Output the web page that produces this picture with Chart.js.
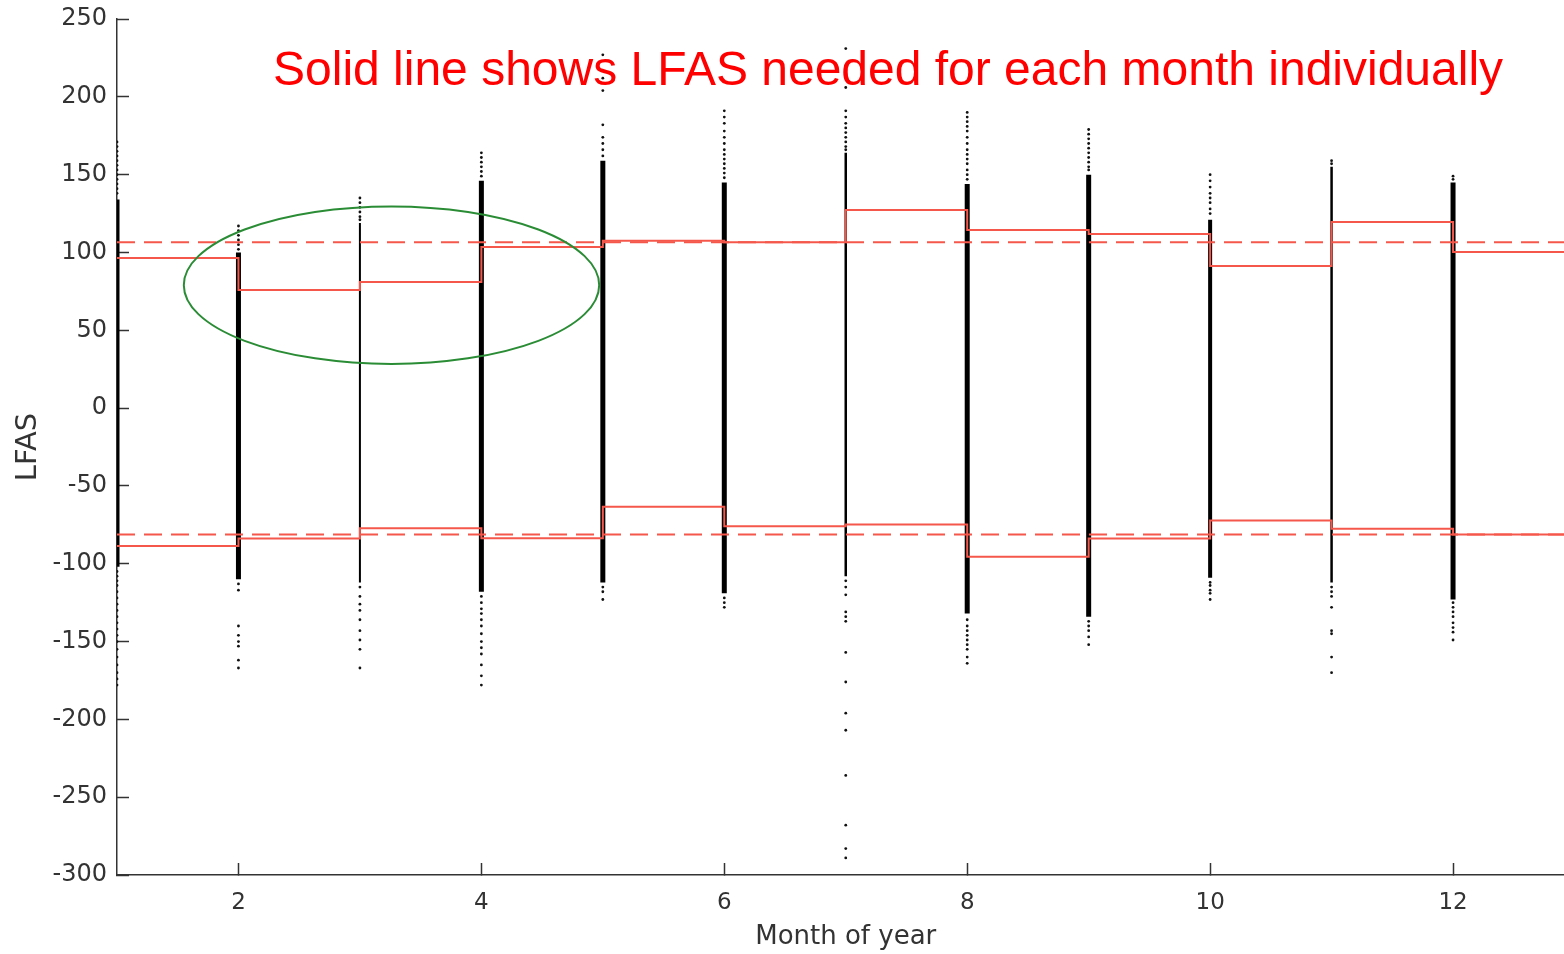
<!DOCTYPE html>
<html>
<head>
<meta charset="utf-8">
<script src="https://cdn.jsdelivr.net/npm/chart.js@4/dist/chart.umd.min.js"></script>
<style>
  html, body { margin: 0; padding: 0; background: #fff; overflow: hidden; }
  #wrap { position: absolute; left: 0; top: 0; width: 1580px; height: 954px; }
  #note {
    position: absolute; left: 273px; top: 45px;
    font: 48px/48px "Liberation Sans", Arial, sans-serif;
    color: #ff0000; white-space: nowrap;
  }
</style>
</head>
<body>
<div id="wrap"><canvas id="lfasChart"></canvas></div>
<div id="note">Solid line shows LFAS needed for each month individually</div>
<script>
// ---- DATA ----
const months = [1, 2, 3, 4, 5, 6, 7, 8, 9, 10, 11, 12];
const xTicks = [2, 4, 6, 8, 10, 12];

// LFAS needed for each month (solid steps)
const upperNeeded = [96.4, 75.8, 81, 103.5, 107.6, 106.5, 127.2, 114.4, 111.8, 91.3, 119.5, 100.3];
const lowerNeeded = [-88.6, -83.8, -77.2, -83.6, -63.4, -76, -74.8, -95.5, -83.8, -72.2, -77.5, -81.2];

// whole-year LFAS (dashed)
const upperAllYear = 106.6;
const lowerAllYear = -81.3;

// dense part of each month's cloud of samples
const denseTop = [134, 100, 119, 146, 159, 145, 164, 144, 150, 121, 155, 145];
const denseBottom = [-102, -110, -112, -118, -112, -119, -108, -132, -134, -109, -112, -123];

// sparse samples outside the dense part
const sparseSamples = [
  [171, 168, 165, 162, 159, 156, 153, 150, 147, 144, 141, 138, -105, -108, -111, -114, -118, -122, -126, -130, -134, -138, -142, -146, -150, -155, -160, -165, -170, -174, -178],
  [117, 114, 111, 108, 105, 102, -113, -117, -140, -146, -150, -153, -162, -167],
  [135, 132, 129, 126, 123, 121, -115, -121, -126, -130, -136, -143, -149, -155, -167],
  [164, 161, 158, 155, 152, 149, -121, -125, -129, -132, -136, -140, -145, -150, -154, -158, -165, -172, -178],
  [227, 212, 204, 182, 174, 170, 166, 162, -115, -118, -123],
  [191, 187, 183, 178, 174, 170, 166, 163, 160, 157, 154, 151, 148, -122, -125, -128],
  [231, 220, 206, 191, 187, 183, 180, 177, 174, 171, 168, 166, -111, -115, -120, -131, -134, -137, -157, -176, -196, -207, -236, -268, -283, -289],
  [190, 187, 184, 181, 178, 174, 170, 166, 163, 160, 157, 153, 150, 147, -136, -140, -143, -146, -149, -152, -155, -160, -164],
  [179, 176, 173, 170, 167, 164, 161, 158, 155, 153, -137, -140, -143, -147, -152],
  [150, 146, 142, 138, 135, 132, 128, 125, -112, -114, -117, -119, -123],
  [159, 157, -115, -118, -121, -128, -143, -145, -160, -170],
  [149, 147, -125, -128, -131, -134, -138, -141, -144, -149]
];

// green highlight ellipse (centre month, centre LFAS, half-width in months, half-height in LFAS)
const ellipseCenter = [3.26, 79];
const ellipseRadius = [1.71, 50.6];

// ---- STYLE ----
const redLine = "#f5574b";
const columnWidths = [5, 5, 2, 5, 5, 5, 2.5, 5, 5, 4, 2.5, 5];
const axisColor = "#333333";
const textColor = "#333333";

function stepData(values) {
  const pts = months.map((m, i) => ({ x: m, y: values[i] }));
  pts.push({ x: 13, y: values[values.length - 1] });
  return pts;
}

const datasets = [
  {
    type: "line", data: stepData(upperNeeded), stepped: "before",
    borderColor: redLine, borderWidth: 2, pointRadius: 0, order: 0,
  },
  {
    type: "line", data: stepData(lowerNeeded), stepped: "before",
    borderColor: redLine, borderWidth: 2, pointRadius: 0, order: 0,
  },
  {
    type: "line", data: [{ x: 1, y: upperAllYear }, { x: 13, y: upperAllYear }],
    borderColor: redLine, borderWidth: 2, borderDash: [18, 9], pointRadius: 0, order: 0,
  },
  {
    type: "line", data: [{ x: 1, y: lowerAllYear }, { x: 13, y: lowerAllYear }],
    borderColor: redLine, borderWidth: 2, borderDash: [18, 9], pointRadius: 0, order: 0,
  },
  {
    type: "scatter",
    data: sparseSamples.flatMap((vals, i) => vals.map((v) => ({ x: months[i], y: v }))),
    backgroundColor: "#111", borderWidth: 0, pointRadius: 1.4, order: 3,
  },
];

months.forEach((m, i) => {
  datasets.push({
    type: "line",
    data: [{ x: m, y: denseBottom[i] }, { x: m, y: denseTop[i] }],
    borderColor: "#000", borderWidth: columnWidths[i], pointRadius: 0, order: 2,
  });
});

// ---- ELLIPSE PLUGIN ----
const ellipsePlugin = {
  id: "ellipse",
  afterDatasetsDraw(chart) {
    const { ctx, scales: { x, y } } = chart;
    const cx = x.getPixelForValue(ellipseCenter[0]);
    const cy = y.getPixelForValue(ellipseCenter[1]);
    const rx = x.getPixelForValue(ellipseCenter[0] + ellipseRadius[0]) - cx;
    const ry = cy - y.getPixelForValue(ellipseCenter[1] + ellipseRadius[1]);
    ctx.save();
    ctx.beginPath();
    ctx.ellipse(cx, cy, rx, ry, 0, 0, Math.PI * 2);
    ctx.strokeStyle = "#2a8c35";
    ctx.lineWidth = 2;
    ctx.stroke();
    ctx.restore();
  },
};

// ---- CHART ----
const ctx = document.getElementById("lfasChart").getContext("2d");
const lfasChart = new Chart(ctx, {
  type: "line",
  data: { datasets: datasets },
  plugins: [ellipsePlugin],
  options: {
    responsive: true,
    maintainAspectRatio: false,
    animation: false,
    layout: { padding: { top: 19, right: 5.5, left: 0, bottom: 0 } },
    plugins: { legend: { display: false }, tooltip: { enabled: false } },
    scales: {
      x: {
        type: "linear",
        min: 1,
        max: 13,
        afterBuildTicks: (scale) => {
          scale.ticks = xTicks.map((v) => ({ value: v }));
        },
        afterFit: (scale) => {
          scale.height = 79;
          scale.paddingLeft = 0;
          scale.paddingRight = 0;
        },
        border: { color: axisColor, width: 1.5 },
        grid: { drawOnChartArea: false, tickLength: -12, color: axisColor, tickWidth: 1.5 },
        ticks: {
          padding: 26,
          color: textColor,
          font: { family: "DejaVu Sans", size: 23 },
          maxRotation: 0,
        },
        title: {
          display: true,
          text: "Month of year",
          color: textColor,
          font: { family: "DejaVu Sans", size: 26 },
          padding: { top: 0, bottom: 1 },
        },
      },
      y: {
        min: -300,
        max: 250,
        afterFit: (scale) => {
          scale.width = 117;
          scale.paddingTop = 0;
          scale.paddingBottom = 0;
        },
        border: { color: axisColor, width: 1.5 },
        grid: { drawOnChartArea: false, tickLength: -12, color: axisColor, tickWidth: 1.5 },
        ticks: {
          stepSize: 50,
          padding: 22,
          color: textColor,
          font: { family: "DejaVu Sans", size: 24 },
        },
        title: {
          display: true,
          text: "LFAS",
          color: textColor,
          font: { family: "DejaVu Sans", size: 29 },
          padding: { top: 11, bottom: 0 },
        },
      },
    },
  },
});
</script>
</body>
</html>
